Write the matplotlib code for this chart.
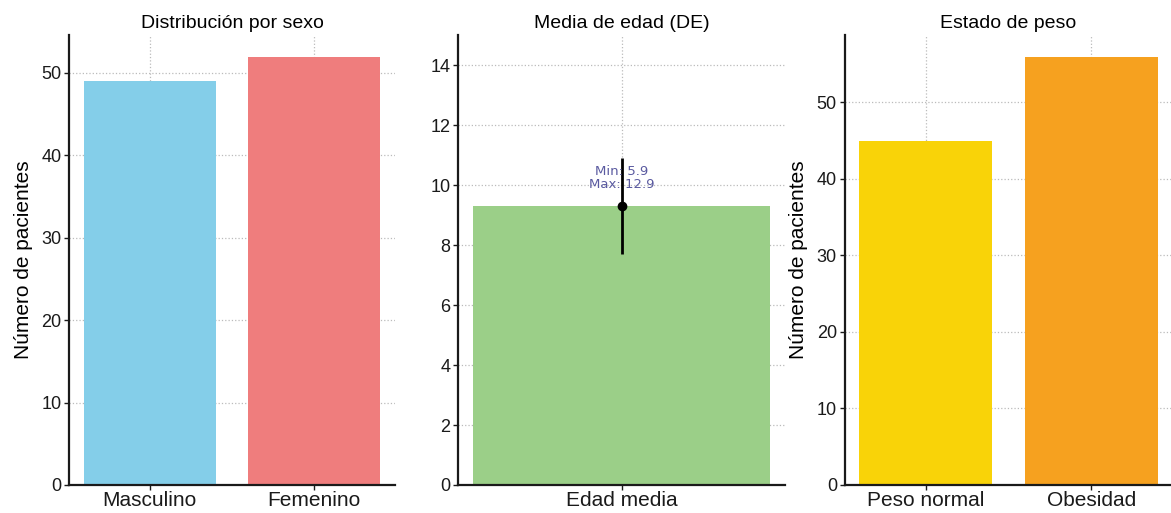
import matplotlib

matplotlib.use("Agg")
import matplotlib.pyplot as plt

sex_labels = ["Masculino", "Femenino"]
sex_counts = [49, 52]
sex_colors = ["#84cee9", "#ef7d7d"]

age_label = ["Edad media"]
age_mean = 9.3
age_sd = 1.6
age_min = 5.9
age_max = 12.9

weight_labels = ["Peso normal", "Obesidad"]
weight_counts = [45, 56]
weight_colors = ["#f9d308", "#f6a11f"]

plt.rcParams["font.family"] = ["Liberation Sans", "DejaVu Sans"]
plt.rcParams["font.size"] = 12

fig = plt.figure(figsize=(11.71, 5.13), dpi=100)
ax1 = fig.add_axes([0.0589, 0.0546, 0.2784, 0.877])
ax2 = fig.add_axes([0.3911, 0.0546, 0.2793, 0.877])
ax3 = fig.add_axes([0.7212, 0.0546, 0.2800, 0.877])


def style(ax):
    ax.grid(True, linestyle=":", color="#bbbbbb", linewidth=0.9)
    ax.set_axisbelow(True)
    for side in ("top", "right"):
        ax.spines[side].set_visible(False)
    for side in ("left", "bottom"):
        ax.spines[side].set_linewidth(1.6)
        ax.spines[side].set_color("#1a1a1a")
    ax.tick_params(axis="y", labelsize=13, length=3.5, width=1, pad=2,
                   colors="#1a1a1a")
    ax.tick_params(axis="x", labelsize=15, length=3.5, width=1, pad=1,
                   colors="#1a1a1a")


ax1.bar(sex_labels, sex_counts, color=sex_colors, width=0.8)
ax1.set_title("Distribución por sexo", fontsize=14, pad=5)
ax1.set_ylabel("Número de pacientes", fontsize=15, labelpad=6)
style(ax1)

ax2.bar(age_label, [age_mean], color="#9bcf88", width=0.8)
ax2.errorbar([0], [age_mean], yerr=[age_sd], fmt="o", color="black",
             elinewidth=2, markersize=6, capsize=0)
ax2.text(0, age_mean + 0.5, f"Min: {age_min}\nMax: {age_max}", ha="center",
         va="bottom", fontsize=9.5, color="#5a5aa0", family="DejaVu Sans",
         linespacing=1.0)
ax2.set_ylim(0, 15)
ax2.set_title("Media de edad (DE)", fontsize=14, pad=5)
style(ax2)

ax3.bar(weight_labels, weight_counts, color=weight_colors, width=0.8)
ax3.set_title("Estado de peso", fontsize=14, pad=5)
ax3.set_ylabel("Número de pacientes", fontsize=15, labelpad=6)
style(ax3)

fig.savefig("out.png", dpi=100)
